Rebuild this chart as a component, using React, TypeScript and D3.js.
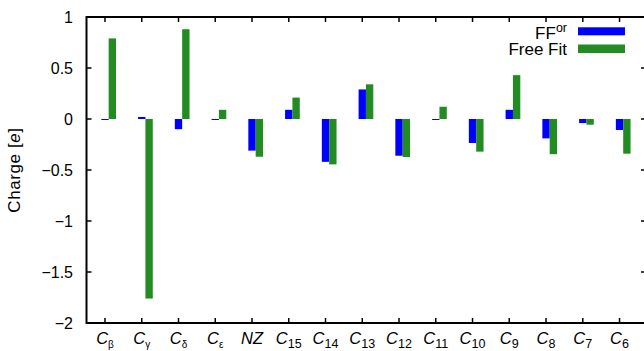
import React from "react";
import * as d3 from "d3";

const categories = ["β", "γ", "δ", "ε", "NZ", "15", "14", "13", "12", "11", "10", "9", "8", "7", "6"];
const ffOr = [-0.01, 0.02, -0.1, -0.01, -0.31, 0.09, -0.42, 0.29, -0.36, -0.005, -0.235, 0.09, -0.19, -0.04, -0.108];
const freeFit = [0.79, -1.76, 0.88, 0.09, -0.37, 0.21, -0.445, 0.34, -0.373, 0.12, -0.32, 0.43, -0.345, -0.056, -0.34];
const yTicks = [1, 0.5, 0, -0.5, -1, -1.5, -2];

const W = 644, H = 351;
const left = 86.5, right = 646, top = 17, bottom = 323;
const BLUE = "#0000ff", GREEN = "#228b22";
const FONT = "'Liberation Sans', Arial, Helvetica, sans-serif";

export default function App() {
  const x = d3.scaleLinear().domain([-0.503, 14.72]).range([left, right]);
  const y = d3.scaleLinear().domain([-2, 1]).range([bottom, top]);
  const fmt = (v: number) => (v < 0 ? "\u2212" + String(-v) : String(v));
  const bar = (i: number, v: number, off: number, color: string, key: string) => {
    const x0 = x(i + off), x1 = x(i + off + 0.2);
    const y0 = y(Math.max(0, v)), y1 = y(Math.min(0, v));
    return (
      <rect key={key} x={x0} y={y0} width={x1 - x0} height={Math.max(y1 - y0, 1)} fill={color} />
    );
  };
  return (
    <svg width={W} height={H} style={{ position: "absolute", left: 0, top: 0, fontFamily: FONT }}>
      <rect x={0} y={0} width={W} height={H} fill="#fff" />
      {categories.map((c, i) => bar(i, ffOr[i], -0.1, BLUE, "b" + i))}
      {categories.map((c, i) => bar(i, freeFit[i], 0.1, GREEN, "g" + i))}
      <rect x={left} y={top} width={right - left} height={bottom - top} fill="none" stroke="#000" strokeWidth={2} />
      {yTicks.map((t) => (
        <g key={"y" + t}>
          <line x1={left} x2={left + 5} y1={y(t)} y2={y(t)} stroke="#000" strokeWidth={1.5} />
          <line x1={right} x2={right - 5} y1={y(t)} y2={y(t)} stroke="#000" strokeWidth={1.5} />
          <text x={73} y={y(t) + 6} textAnchor="end" fontSize={16} fill="#000">
            {fmt(t)}
          </text>
        </g>
      ))}
      {categories.map((c, i) => (
        <g key={"x" + i}>
          <line x1={x(i)} x2={x(i)} y1={bottom} y2={bottom - 5} stroke="#000" strokeWidth={1.5} />
          <line x1={x(i)} x2={x(i)} y1={top} y2={top + 5} stroke="#000" strokeWidth={1.5} />
          {c === "NZ" ? (
            <text x={x(i)} y={344} textAnchor="middle" fontSize={16.5} fontStyle="italic" fill="#000">
              NZ
            </text>
          ) : (
            <text x={x(i)} y={344} textAnchor="middle" fontSize={16.5} fill="#000">
              <tspan fontStyle="italic">C</tspan>
              <tspan fontSize={/^\d+$/.test(c) ? 12.5 : 10} dy={4}>
                {c}
              </tspan>
            </text>
          )}
        </g>
      ))}
      <text transform={`translate(20,${(top + bottom) / 2}) rotate(-90)`} textAnchor="middle" fontSize={17} letterSpacing={0.6} fill="#000">
        Charge [<tspan fontStyle="italic">e</tspan>]
      </text>
      <text x={567} y={38.5} textAnchor="end" fontSize={17} fill="#000">
        FF<tspan fontSize={12.5} dy={-7}>or</tspan>
      </text>
      <rect x={578} y={27.3} width={47} height={8} fill={BLUE} />
      <text x={567} y={54.5} textAnchor="end" fontSize={17} fill="#000">
        Free Fit
      </text>
      <rect x={578} y={44.5} width={47} height={8.5} fill={GREEN} />
    </svg>
  );
}
